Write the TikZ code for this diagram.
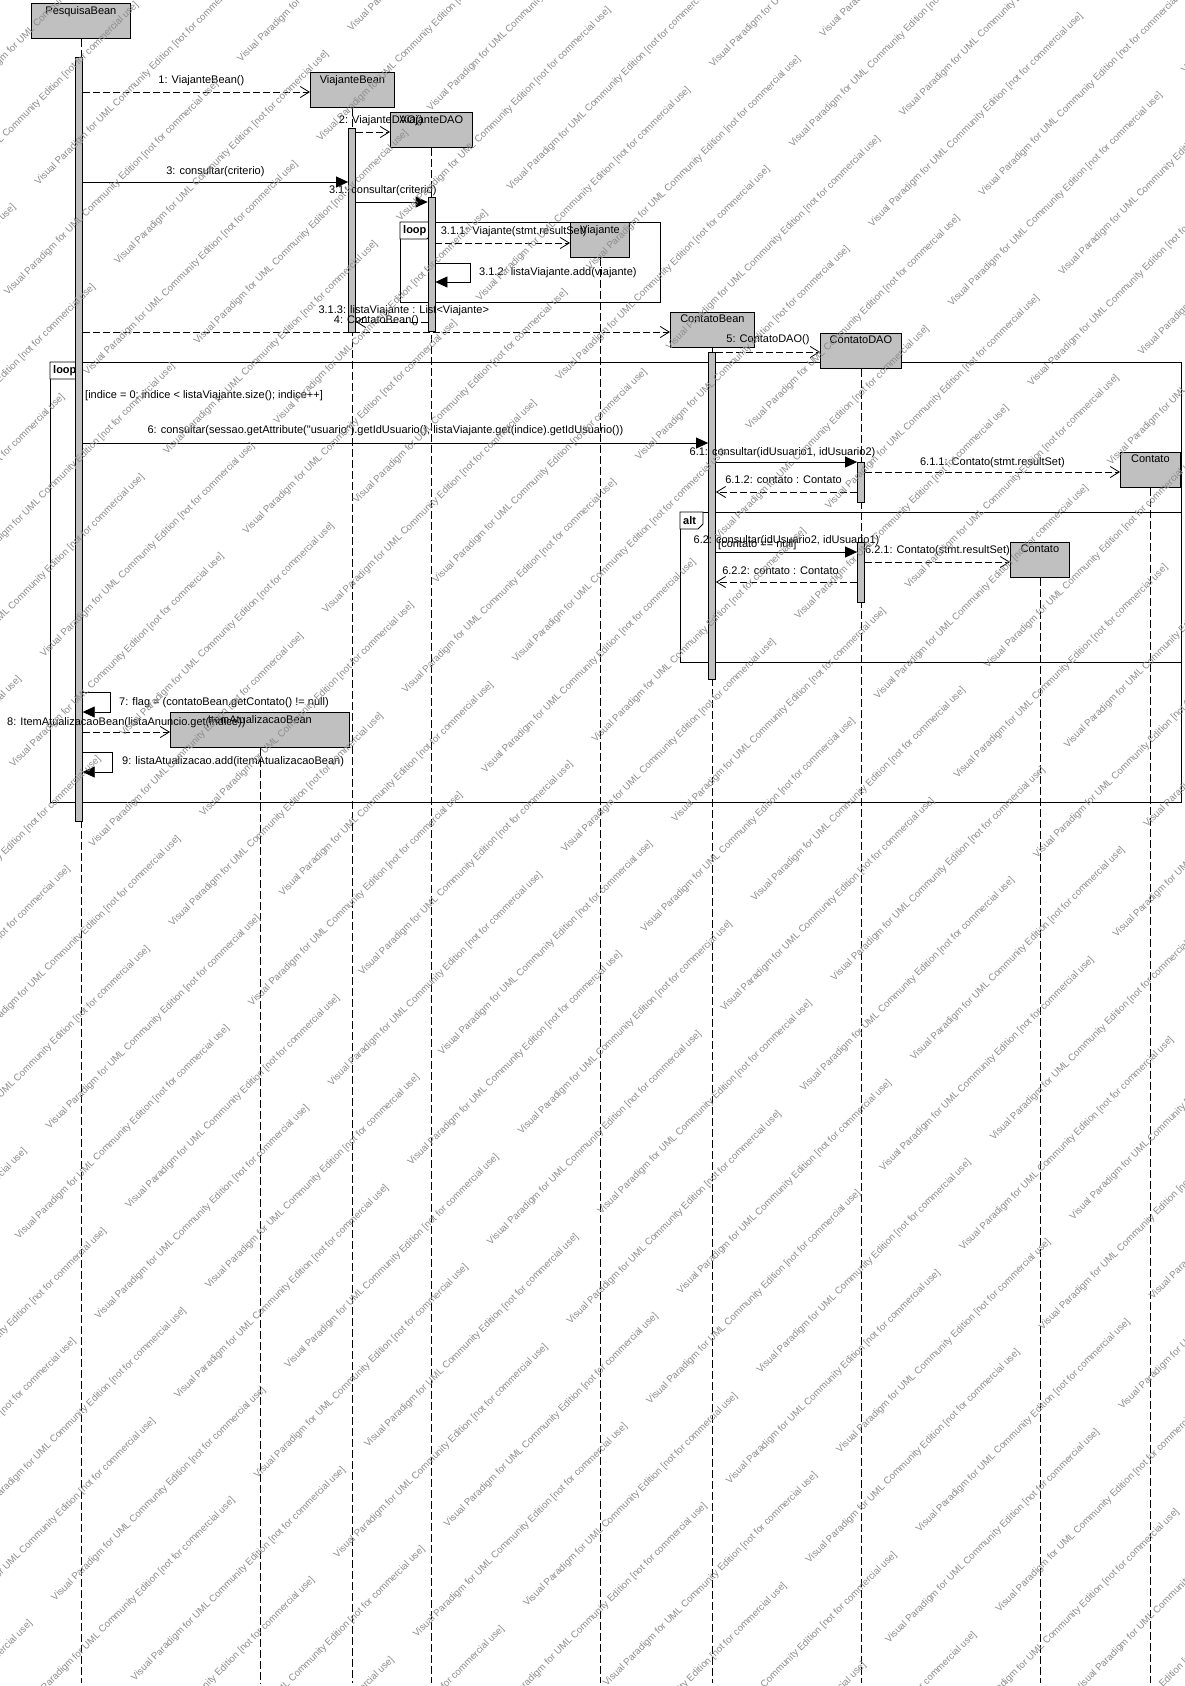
\documentclass[tikz,border=0pt]{standalone}
\usepackage{fontspec}
\setmainfont{Liberation Sans}[Ligatures=TeXOff]
\usetikzlibrary{arrows.meta}
\definecolor{boxgray}{HTML}{C0C0C0}
\definecolor{wmgray}{HTML}{8C8C8C}
\newcommand{\WaterText}{Visual Paradigm for UML Community Edition [not for commercial use]}
\tikzset{
  every node/.style={font=\fontsize{11}{13}\selectfont, text=black},
  lane/.style={draw=black, line width=0.8pt, dash pattern=on 8pt off 3pt},
  headbox/.style={draw=black, fill=boxgray, line width=0.8pt, inner sep=0pt,
    anchor=north west, minimum height=35pt},
  headtext/.style={anchor=north, inner sep=0pt, yshift=-3pt},
  actbar/.style={draw=black, fill=boxgray, line width=0.8pt, inner sep=0pt,
    minimum width=7pt, anchor=north},
  callmsg/.style={draw=black, line width=0.8pt, -{Triangle[length=12pt,width=11pt]}},
  newmsg/.style={draw=black, line width=0.8pt, dash pattern=on 7pt off 3pt,
    -{Straight Barb[length=9pt,width=11pt]}},
  msgtext/.style={anchor=base, inner sep=0pt, yshift=9pt},
  sidetext/.style={anchor=base west, inner sep=0pt},
  fragbox/.style={draw=black, line width=0.8pt},
  fragtag/.style={draw=black, fill=white, line width=0.8pt},
  fragname/.style={anchor=west, inner sep=0pt, font=\fontsize{11}{13}\selectfont\bfseries},
  watermark/.style={anchor=base west, inner sep=0pt, rotate=45, text=wmgray,
    font=\fontsize{9.7}{11}\selectfont}
}

\begin{document}
\begin{tikzpicture}[x=1pt,y=-1pt]
\useasboundingbox (0,0) rectangle (1184,1686);
\fill[white] (0,0) rectangle (1184,1686);

% =========================
% COMBINED FRAGMENTS
% =========================
\draw[fragbox] (50,362) rectangle (1181,802);   % outer loop
\draw[fragbox] (400,222) rectangle (660,302);   % loop in ViajanteDAO
\draw[fragbox] (680,512) rectangle (1181,662);  % alt

\draw[fragtag] (50,362) -- ++(32,0) -- ++(0,12) -- ++(-5,5) -- ++(-27,0) -- cycle;
\node[fragname] (tagLoopA) at (53,370.5) {loop};
\draw[fragtag] (400,222) -- ++(32,0) -- ++(0,12) -- ++(-5,5) -- ++(-27,0) -- cycle;
\node[fragname] (tagLoopB) at (403,230.5) {loop};
\draw[fragtag] (680,512) -- ++(23,0) -- ++(0,12) -- ++(-5,5) -- ++(-18,0) -- cycle;
\node[fragname] (tagAlt) at (683,520.5) {alt};

% =========================
% LIFELINE HEADS + LANES
% =========================
\coordinate (floor) at (0,1683);
\foreach \nm/\x/\y/\w/\txt in {
  pb/31/3/99/PesquisaBean,
  vb/310/72/84/ViajanteBean,
  vd/390/112/82/ViajanteDAO,
  vj/570/222/59/Viajante,
  cb/670/312/84/ContatoBean,
  cd/820/333/81/ContatoDAO,
  ct/1120/452/60/Contato,
  cu/1010/542/59/Contato,
  ia/170/712/179/ItemAtualizacaoBean%
}{
  \node[headbox, minimum width=\w] (\nm Head) at (\x,\y) {};
  \node[headtext] (\nm Name) at (\nm Head.north) {\txt};
  \draw[lane] (\nm Head.south) -- (\nm Head.south |- floor);
}

% =========================
% ACTIVATION BARS
% =========================
\foreach \nm/\x/\yt/\h in {
  pbBar/78.8/57/764,
  vbBar/352/128/204,
  vdBar/431.5/197/134,
  cbBar/712/352/327,
  cdBarA/861/462/40,
  cdBarB/861/542/60%
}{
  \node[actbar, minimum height=\h] (\nm) at (\x,\yt) {};
}

% =========================
% MESSAGES
% =========================
\foreach \nm/\y in {r1/92, r2/132, r3/182, r31/202, r311/243, r312a/263, r312b/282,
  r313/322, r4/332, r5/352, r6/443, r61/462, r611/472, r612/492, r62/552, r621/562,
  r622/582, r7a/692, r7b/712, r8/732, r9a/752, r9b/772}
  \coordinate (\nm) at (0,\y);

\draw[newmsg] (pbBar.east |- r1) -- (vbHead.west |- r1)
  node[msgtext, midway, xshift=5pt] (m1) {1: ViajanteBean()};
\draw[newmsg] (vbBar.east |- r2) -- (vdHead.west |- r2)
  node[msgtext, midway, xshift=8pt] (m2) {2: ViajanteDAO()};
\draw[callmsg] (pbBar.east |- r3) -- (vbBar.west |- r3)
  node[msgtext, midway, yshift=-1pt] (m3) {3: consultar(criterio)};
\draw[callmsg] (vbBar.east |- r31) -- (vdBar.west |- r31)
  node[msgtext, midway, xshift=-9pt] (m31) {3.1: consultar(criterio)};
\draw[newmsg] (vdBar.east |- r311) -- (vjHead.west |- r311)
  node[msgtext, midway, xshift=11pt] (m311) {3.1.1: Viajante(stmt.resultSet)};
\draw[callmsg] (vdBar.east |- r312a) -- ++(35,0) |- (vdBar.east |- r312b);
\node[sidetext] (m312) at (479,275) {3.1.2: listaViajante.add(viajante)};
\draw[newmsg] (vdBar.west |- r313) -- (vbBar.east |- r313)
  node[msgtext, midway, xshift=12pt] (m313) {3.1.3: listaViajante : List<Viajante>};
\draw[newmsg] (pbBar.east |- r4) -- (cbHead.west |- r4)
  node[msgtext, midway] (m4) {4: ContatoBean()};
\draw[newmsg] (cbBar.east |- r5) -- (cdHead.west |- r5)
  node[msgtext, midway, yshift=1pt] (m5) {5: ContatoDAO()};

\node[sidetext] (guardLoop) at (85,398) {[indice = 0; indice < listaViajante.size(); indice++]};
\draw[callmsg] (pbBar.east |- r6) -- (cbBar.west |- r6)
  node[msgtext, midway, xshift=-10pt, yshift=1pt] (m6)
  {6: consultar(sessao.getAttribute("usuario").getIdUsuario(), listaViajante.get(indice).getIdUsuario())};
\draw[callmsg] (cbBar.east |- r61) -- (cdBarA.west |- r61)
  node[msgtext, midway, xshift=-4pt, yshift=-2pt] (m61) {6.1: consultar(idUsuario1, idUsuario2)};
\draw[newmsg] (cdBarA.east |- r611) -- (ctHead.west |- r611)
  node[msgtext, midway, yshift=-2pt] (m611) {6.1.1: Contato(stmt.resultSet)};
\draw[newmsg] (cdBarA.west |- r612) -- (cbBar.east |- r612)
  node[msgtext, midway, xshift=-3pt] (m612) {6.1.2: contato : Contato};

\node[sidetext] (guardAlt) at (718,547) {[contato == null]};
\draw[callmsg] (cbBar.east |- r62) -- (cdBarB.west |- r62)
  node[msgtext, midway] (m62) {6.2: consultar(idUsuario2, idUsuario1)};
\draw[newmsg] (cdBarB.east |- r621) -- (cuHead.west |- r621)
  node[msgtext, midway] (m621) {6.2.1: Contato(stmt.resultSet)};
\draw[newmsg] (cdBarB.west |- r622) -- (cbBar.east |- r622)
  node[msgtext, midway, xshift=-6pt, yshift=-1pt] (m622) {6.2.2: contato : Contato};

\draw[callmsg] (pbBar.east |- r7a) -- ++(28,0) |- (pbBar.east |- r7b);
\node[sidetext] (m7) at (119,705) {7: flag = (contatoBean.getContato() != null)};
\draw[newmsg] (pbBar.east |- r8) -- (iaHead.west |- r8)
  node[msgtext, midway, yshift=-2pt] (m8) {8: ItemAtualizacaoBean(listaAnuncio.get(indice))};
\draw[callmsg] (pbBar.east |- r9a) -- ++(30,0) |- (pbBar.east |- r9b);
\node[sidetext] (m9) at (122,764) {9: listaAtualizacao.add(itemAtualizacaoBean)};

% =========================
% WATERMARK (diagonal rows)
% =========================
\begin{scope}
  \clip (0,0) rectangle (1184,1686);
  \foreach \k in {-10,...,27}{
    \pgfmathsetmacro{\wmC}{781+79.6*\k}
    \pgfmathsetmacro{\wmT}{645+141*Mod(\k,2)}
    \foreach \wmJ in {-6,...,2}{
      \pgfmathsetmacro{\wmX}{(\wmC+\wmT+466.5*\wmJ)/2}
      \pgfmathsetmacro{\wmY}{(\wmC-\wmT-466.5*\wmJ)/2}
      \node[watermark] (wm\k x\wmJ) at (\wmX,\wmY) {\WaterText};
    }
  }
\end{scope}

\end{tikzpicture}
\end{document}
